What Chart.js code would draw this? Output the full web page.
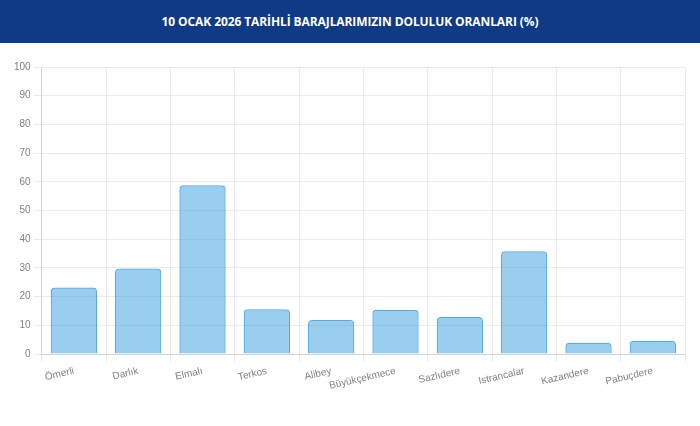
<!DOCTYPE html>
<html>
<head>
<meta charset="utf-8">
<script src="https://cdn.jsdelivr.net/npm/chart.js@4"></script>
<style>
  html, body { margin: 0; padding: 0; background: #fff; width: 700px; height: 426px; overflow: hidden; }
  #hdr { height: 43px; background: #0f3a85; color: #fff; font-family: "Open Sans", Lato, sans-serif; font-weight: 700; font-size: 12px; line-height: 43px; text-align: center; letter-spacing: -0.1px; }
  #wrap { position: absolute; left: 0; top: 43px; width: 700px; height: 352px; }
</style>
</head>
<body>
<div id="hdr">10 OCAK 2026 TARİHLİ BARAJLARIMIZIN DOLULUK ORANLARI (%)</div>
<div id="wrap"><canvas id="c"></canvas></div>
<script>
const categories = ["Ömerli", "Darlık", "Elmalı", "Terkos", "Alibey", "Büyükçekmece", "Sazlıdere", "Istrancalar", "Kazandere", "Pabuçdere"];
const fillRates = [23.2, 29.8, 58.8, 15.6, 11.9, 15.4, 12.9, 35.8, 3.9, 4.6];
const yTicks = [0, 10, 20, 30, 40, 50, 60, 70, 80, 90, 100];

new Chart(document.getElementById('c'), {
  type: 'bar',
  data: {
    labels: categories,
    datasets: [{
      label: 'Doluluk (%)',
      data: fillRates,
      backgroundColor: 'rgba(54,158,222,0.5)',
      borderColor: 'rgba(54,158,222,0.85)',
      borderWidth: 1.2,
      borderRadius: 4,
      borderSkipped: 'bottom'
    }]
  },
  options: {
    responsive: true,
    maintainAspectRatio: false,
    animation: false,
    layout: { padding: { left: 11, right: 15, top: 24, bottom: 0 } },
    plugins: { legend: { display: false }, tooltip: { enabled: false } },
    scales: {
      x: {
        ticks: { color: '#808080', autoSkip: false, font: { family: 'Liberation Sans, Arial', size: 10 }, minRotation: 13, maxRotation: 13 },
        grid: { color: 'rgba(0,0,0,0.08)' }
      },
      y: {
        min: yTicks[0], max: yTicks[yTicks.length - 1],
        afterBuildTicks: (axis) => { axis.ticks = yTicks.map(v => ({ value: v })); },
        ticks: { color: '#808080', font: { family: 'Liberation Sans, Arial', size: 10 } },
        grid: { color: 'rgba(0,0,0,0.08)' }
      }
    }
  }
});
</script>
</body>
</html>
